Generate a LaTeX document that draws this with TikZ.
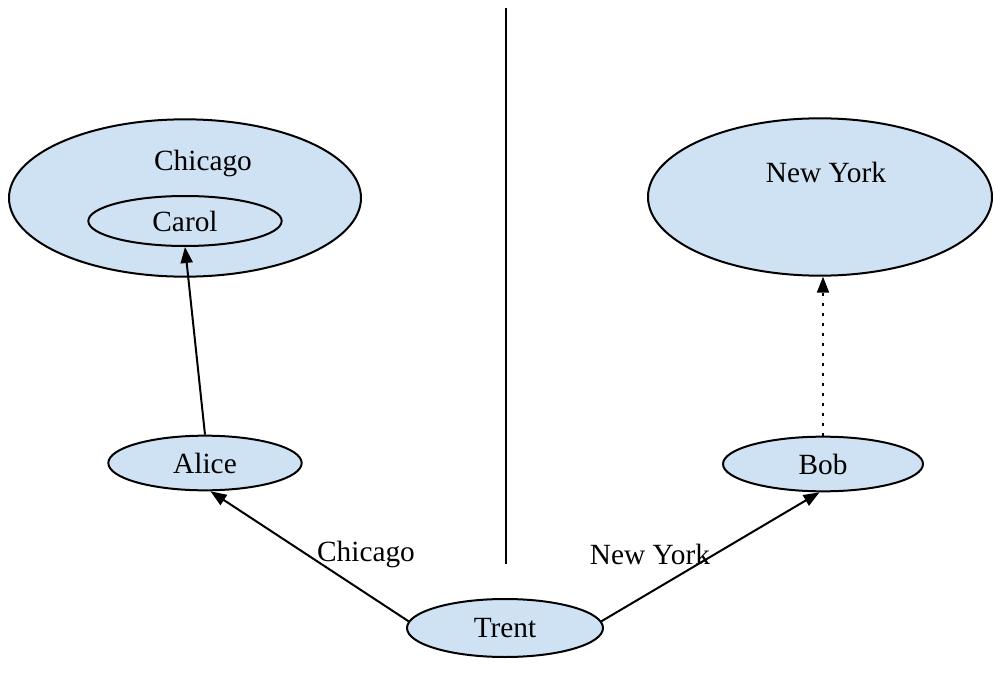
\documentclass[tikz,border=0pt]{standalone}
\usepackage{fontspec}
\setmainfont{Liberation Serif}
\usetikzlibrary{shapes.geometric,arrows.meta}
\definecolor{placeFill}{HTML}{CFE2F3}
\begin{document}
\begin{tikzpicture}[x=0.75pt, y=-0.75pt,
  font=\fontsize{22}{26}\selectfont,
  place/.style={ellipse, draw, line width=1.5pt, fill=placeFill, inner sep=0pt},
  link/.style={line width=1.5pt, -{Triangle[length=12pt,width=9pt]}}]
\useasboundingbox (0,0) rectangle (993,674);
% Divider between the two cities
\draw[line width=1.5pt] (506,8) -- (506,564);
% Cities
\node[place, minimum width=264pt, minimum height=118pt] (chicago) at (185,198) {};
\node (chicagoLabel) at (203,163) {Chicago};
\node[place, minimum width=145pt, minimum height=37.5pt] (carol) at (185,221) {Carol};
\node[place, minimum width=258pt, minimum height=118pt] (newyork) at (820,197) {};
\node (newyorkLabel) at (826,172) {New York};
% People
\node[place, minimum width=145pt, minimum height=41pt] (alice) at (205,463) {Alice};
\node[place, minimum width=150pt, minimum height=41pt] (bob) at (823,464) {Bob};
\node[place, minimum width=147pt, minimum height=43.5pt] (trent) at (505,628) {Trent};
% Links
\draw[link] (alice.north) -- (carol.south);
\draw[link, dash pattern=on 2pt off 5.5pt] (bob.north) -- (bob.north |- newyork.south);
\draw[link] (trent.176) -- (alice.281);
\draw[link] (trent.4) -- (bob.263);
% Link labels
\node (toChicago) at (366,554) {Chicago};
\node (toNewYork) at (650,554) {New York};
\end{tikzpicture}
\end{document}
